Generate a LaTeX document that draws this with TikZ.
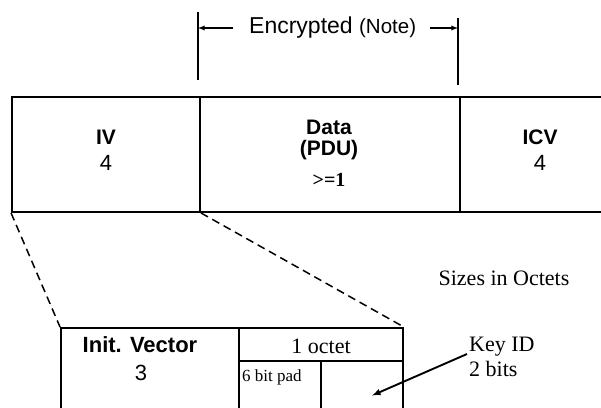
\documentclass[tikz,border=0pt]{standalone}
\usepackage{fontspec}
\setmainfont{Liberation Serif}
\setsansfont{Liberation Sans}
\usetikzlibrary{calc,arrows,positioning}

\begin{document}
\begin{tikzpicture}[x=1pt,y=-1pt]

\tikzset{cell/.style={draw,line width=1.9pt,inner sep=0pt},
fieldname/.style={font=\sffamily\bfseries\fontsize{21}{23}\selectfont,inner sep=0pt},
fieldsize/.style={font=\sffamily\fontsize{22}{24}\selectfont,inner sep=0pt},
remark/.style={font=\rmfamily\fontsize{22}{25}\selectfont,inner sep=0pt},
zoomline/.style={line width=1.5pt,dash pattern=on 8pt off 5pt}}

\useasboundingbox (0,0) rectangle (601,407);

% WEP frame fields
\node[cell,minimum width=188pt,minimum height=115pt] (iv) at (106,154.5) {};
\node[cell,minimum width=260pt,minimum height=115pt] (data) at (330,154.5) {};
\node[cell,minimum width=160pt,minimum height=115pt] (icv) at (540,154.5) {};

\node[fieldname] (ivname) at (106,137) {IV};
\node[fieldsize] (ivsize) at (106,163) {4};
\node[fieldname] (dataname) at (329,127) {Data};
\node[fieldname] (pduname) at (329,150) {(PDU)};
\node[font=\rmfamily\bfseries\fontsize{20}{22}\selectfont,inner sep=0pt] (datasize) at (329,180) {>=1};
\node[fieldname] (icvname) at (540,137) {ICV};
\node[fieldsize] (icvsize) at (540,163) {4};

% encrypted span
\coordinate (encL) at (198,28);
\coordinate (encR) at (458,28);
\draw[line width=1.7pt] (198,12) -- (198,80);
\draw[line width=1.7pt] (458,18) -- (458,85);
\node[font=\sffamily\fontsize{23}{25}\selectfont,inner sep=0pt,anchor=west] (enc) at (249,28)
  {Encrypted {\fontsize{20.5}{22}\selectfont(Note)}};
\draw[-latex,line width=1.3pt] ([xshift=-16pt]enc.west) -- (encL);
\draw[-latex,line width=1.3pt] ([xshift=14pt]enc.east) -- (encR);

% IV field in detail
\node[cell,minimum width=178pt,minimum height=92pt] (ivec) at (150,374) {};
\node[cell,minimum width=164pt,minimum height=33pt] (octet) at (321,344.5) {};
\node[cell,minimum width=82pt,minimum height=59pt] (pad) at (280,390.5) {};
\node[cell,minimum width=82pt,minimum height=59pt] (kcell) at (362,390.5) {};

\node[font=\sffamily\bfseries\fontsize{22}{24}\selectfont,inner sep=0pt] (ivecname) at (140,345) {Init. Vector};
\node[fieldsize] (ivecsize) at (141,373) {3};
\node[remark] (octetname) at (321,346) {1 octet};
\node[font=\rmfamily\fontsize{17}{19}\selectfont,inner sep=0pt,anchor=west] (padname) at (242,377) {6 bit pad};

\draw[zoomline] (iv.south west) -- (ivec.north west);
\draw[zoomline] (iv.south east) -- (octet.north east);

% notes
\node[remark] (sizes) at (504,278) {Sizes in Octets};
\node[remark,align=left,anchor=west] (keyid) at (469,357) {Key ID\\2 bits};
\draw[-latex,line width=1.9pt] ([xshift=-2pt,yshift=3pt]keyid.west) -- ($(kcell.center)+(10,5)$);

\end{tikzpicture}
\end{document}
